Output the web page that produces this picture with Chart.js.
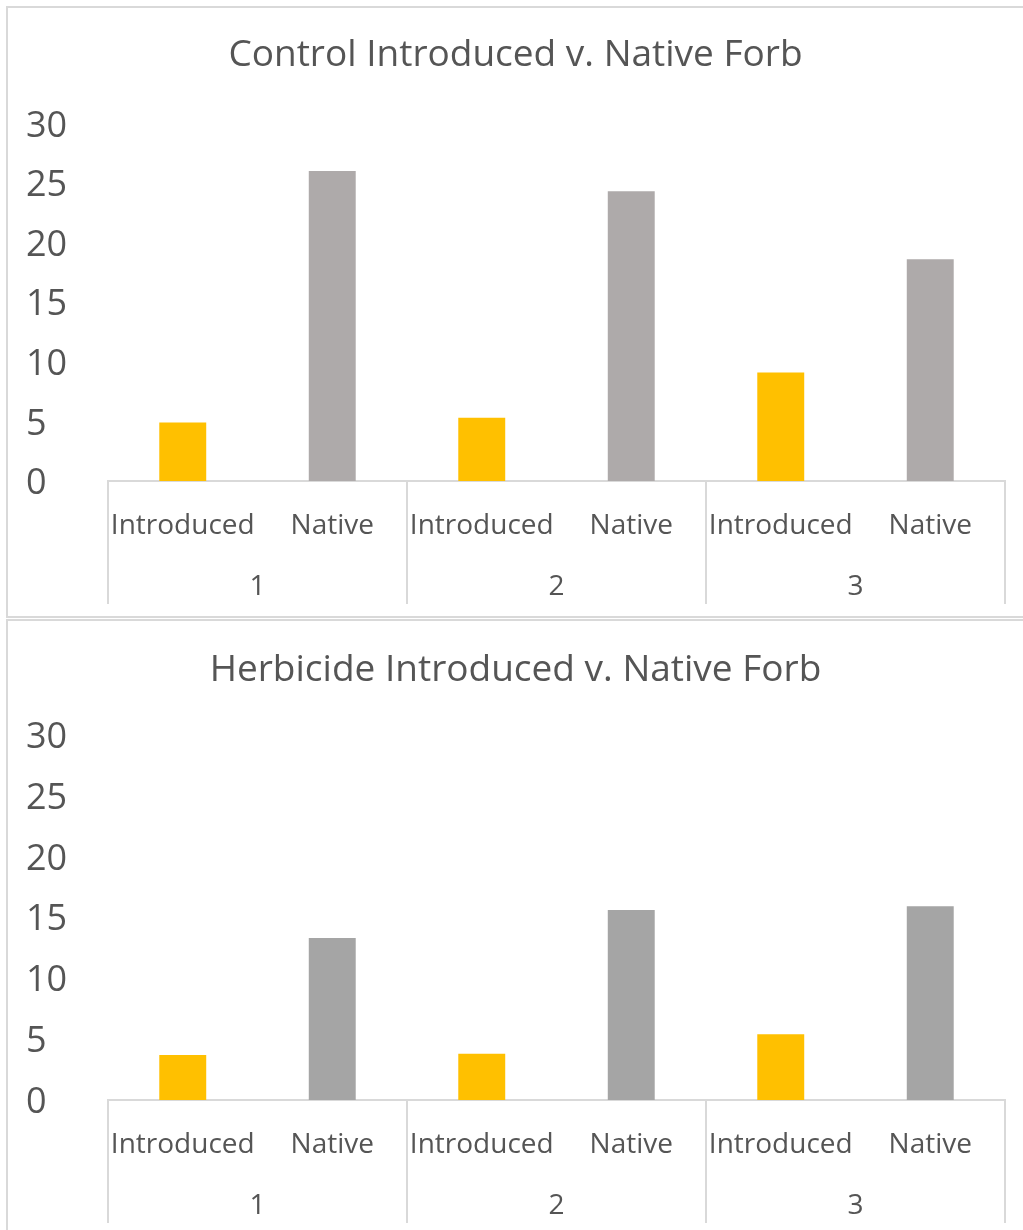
<!DOCTYPE html>
<html>
<head>
<meta charset="utf-8">
<script src="https://cdn.jsdelivr.net/npm/chart.js@4.4.0/dist/chart.umd.min.js"></script>
<style>
  html, body { margin: 0; padding: 0; background: #fff; overflow: hidden; }
  .box { position: absolute; left: 6px; width: 1030px; border: 2px solid #d9d9d9; box-sizing: border-box; }
  #box1 { top: 6px; height: 612px; }
  #box2 { top: 619px; height: 630px; }
  canvas { position: absolute; left: 7px; }
  #controlChart { top: 7px; }
  #herbicideChart { top: 621px; }
</style>
</head>
<body>
<div class="box" id="box1"></div>
<div class="box" id="box2"></div>
<canvas id="controlChart" width="1016" height="610"></canvas>
<canvas id="herbicideChart" width="1016" height="615"></canvas>

<script>
const categories = ['Introduced', 'Native', 'Introduced', 'Native', 'Introduced', 'Native'];
const groups = ['1', '2', '3'];
const controlValues = [4.9, 26.0, 5.3, 24.3, 9.1, 18.6];
const herbicideValues = [3.7, 13.3, 3.8, 15.6, 5.4, 15.9];

const textColor = '#555555';
const lineColor = '#d9d9d9';
const fontFamily = "'Open Sans', sans-serif";

// vertical separators between the group blocks under the axis
const groupLines = {
    id: 'groupLines',
    afterDraw(chart) {
        const x = chart.scales.x;
        const g = chart.scales.x2;
        const ctx = chart.ctx;
        ctx.save();
        ctx.strokeStyle = lineColor;
        ctx.lineWidth = 2;
        for (let i = 0; i <= groups.length; i++) {
            const px = Math.round(x.left + (x.right - x.left) * i / groups.length);
            ctx.beginPath();
            ctx.moveTo(px, x.top);
            ctx.lineTo(px, g.bottom);
            ctx.stroke();
        }
        ctx.restore();
    }
};

function makeChart(id, title, values, nativeColor, titlePad) {
    const ctx = document.getElementById(id).getContext('2d');
    return new Chart(ctx, {
        type: 'bar',
        data: {
            labels: categories,
            datasets: [{
                data: values,
                backgroundColor: categories.map(c => c === 'Introduced' ? '#ffc000' : nativeColor),
                categoryPercentage: 1,
                barPercentage: 0.314
            }]
        },
        plugins: [groupLines],
        options: {
            responsive: false,
            animation: false,
            layout: {
                padding: { left: 19, right: 18, top: 0, bottom: 13 }
            },
            plugins: {
                legend: { display: false },
                tooltip: { enabled: false },
                title: {
                    display: true,
                    text: title,
                    color: textColor,
                    font: { family: fontFamily, size: 37, weight: 'normal' },
                    padding: titlePad
                }
            },
            scales: {
                y: {
                    min: 0,
                    max: 30,
                    ticks: {
                        stepSize: 5,
                        color: textColor,
                        crossAlign: 'far',
                        labelOffset: 3,
                        font: { family: fontFamily, size: 36 }
                    },
                    grid: { display: false },
                    border: { display: false },
                    afterFit(scale) { scale.width = 82; }
                },
                x: {
                    weight: 0,
                    ticks: {
                        color: textColor,
                        padding: 20,
                        maxRotation: 0,
                        autoSkip: false,
                        font: { family: fontFamily, size: 28 }
                    },
                    grid: { display: false },
                    border: { display: true, color: lineColor, width: 2 },
                    afterFit(scale) { scale.height = 57; }
                },
                x2: {
                    type: 'category',
                    labels: groups,
                    position: 'bottom',
                    display: true,
                    offset: true,
                    weight: 1,
                    ticks: {
                        color: textColor,
                        padding: 24,
                        font: { family: fontFamily, size: 28 }
                    },
                    grid: { display: false },
                    border: { display: false },
                    afterFit(scale) { scale.height = 66; }
                }
            }
        }
    });
}

makeChart('controlChart', 'Control Introduced v. Native Forb', controlValues, '#aeaaaa', { top: 26, bottom: 46 });
makeChart('herbicideChart', 'Herbicide Introduced v. Native Forb', herbicideValues, '#a5a5a5', { top: 27, bottom: 42 });
</script>
</body>
</html>
